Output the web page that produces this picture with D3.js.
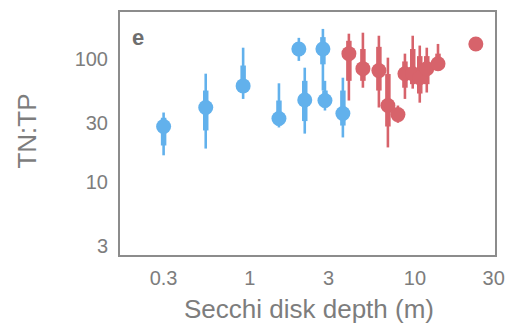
<!DOCTYPE html>
<html>
<head>
<meta charset="utf-8">
<script src="https://d3js.org/d3.v7.min.js"></script>
<style>
  body { margin: 0; background: #fff; }
  text { font-family: "Liberation Sans", Arial, sans-serif; fill: #7d7d7d; }
</style>
</head>
<body>
<svg id="plot" width="507" height="330"></svg>
<script>
// secchi depth (m), TN:TP median, outer range, inner range
var blueX   = [0.30, 0.54, 0.91, 1.50, 1.98, 2.15, 2.77, 2.85, 3.66];
var blueY   = [28, 40, 60, 32.5, 120, 46, 120, 45.6, 35.7];
var blueLo  = [16.3, 18.5, 47, 27.5, 96, 24.5, 55, 37.8, 22.8];
var blueHi  = [36.4, 75.5, 123, 63, 148, 84.5, 175, 66, 70];
var blueLo2 = [19.6, 26, 53, 28.5, 105, 31, 90, 40, 28.5];
var blueHi2 = [33, 55, 88, 45.6, 135, 66, 150, 55, 55];

var redX   = [3.98, 4.84, 6.05, 6.86, 7.89, 8.7, 9.7, 10.7, 11.8, 13.8, 23.4];
var redY   = [110, 83, 80, 41.5, 35, 75.5, 75.5, 70, 83, 91, 132];
var redLo  = [45.6, 58, 40, 18.9, 30, 47, 57, 43.8, 53, 80, 132];
var redHi  = [160, 163, 154, 102, 41.5, 110, 154, 128, 123, 132, 132];
var redLo2 = [66, 66, 55, 28, 32, 58, 62, 52, 62, 84, 132];
var redHi2 = [140, 120, 125, 75, 38, 95, 120, 105, 105, 110, 132];

var xTicks = [0.3, 1, 3, 10, 30];
var yTicks = [3, 10, 30, 100];

var svg = d3.select("#plot");
var x = d3.scaleLog().domain([0.161, 31]).range([119, 496]);
var y = d3.scaleLog().domain([2.46, 245]).range([256, 11]);

var blueCol = "#62b1ec", redCol = "#d7636b";

function series(X, Y, lo, hi, lo2, hi2, col) {
  var d = X.map(function(v, i) { return {x: v, y: Y[i], lo: lo[i], hi: hi[i], lo2: lo2[i], hi2: hi2[i]}; });
  var g = svg.append("g");
  g.selectAll("line.outer").data(d).enter().append("line")
    .attr("x1", function(d) { return x(d.x); }).attr("x2", function(d) { return x(d.x); })
    .attr("y1", function(d) { return y(d.lo); }).attr("y2", function(d) { return y(d.hi); })
    .style("stroke", col).style("stroke-width", 2.6);
  g.selectAll("line.inner").data(d).enter().append("line")
    .attr("x1", function(d) { return x(d.x); }).attr("x2", function(d) { return x(d.x); })
    .attr("y1", function(d) { return y(d.lo2); }).attr("y2", function(d) { return y(d.hi2); })
    .style("stroke", col).style("stroke-width", 5.5);
  g.selectAll("circle").data(d).enter().append("circle")
    .attr("cx", function(d) { return x(d.x); })
    .attr("cy", function(d) { return y(d.y); })
    .attr("r", 7.5).style("fill", col);
}
series(blueX, blueY, blueLo, blueHi, blueLo2, blueHi2, blueCol);
series(redX, redY, redLo, redHi, redLo2, redHi2, redCol);

svg.append("rect").attr("x", 119).attr("y", 11).attr("width", 377).attr("height", 245)
  .style("fill", "none").style("stroke", "#8c8c8c").style("stroke-width", 2);

svg.selectAll("text.yt").data(yTicks).enter().append("text")
  .attr("x", 108).attr("y", function(d) { return y(d); }).attr("dy", "0.36em")
  .attr("text-anchor", "end").style("font-size", "20px").text(function(d) { return d; });

svg.selectAll("text.xt").data(xTicks).enter().append("text")
  .attr("x", function(d) { return x(d); }).attr("y", 285)
  .attr("text-anchor", "middle").style("font-size", "20px").text(function(d) { return d; });

svg.append("text").attr("x", 309).attr("y", 318).attr("text-anchor", "middle")
  .style("font-size", "26px").text("Secchi disk depth (m)");

svg.append("text").attr("transform", "translate(36,131) rotate(-90)").attr("text-anchor", "middle")
  .style("font-size", "26px").text("TN:TP");

svg.append("text").attr("x", 132).attr("y", 45).style("font-size", "22px")
  .style("font-weight", "bold").style("fill", "#6e6e6e").text("e");
</script>
</body>
</html>
